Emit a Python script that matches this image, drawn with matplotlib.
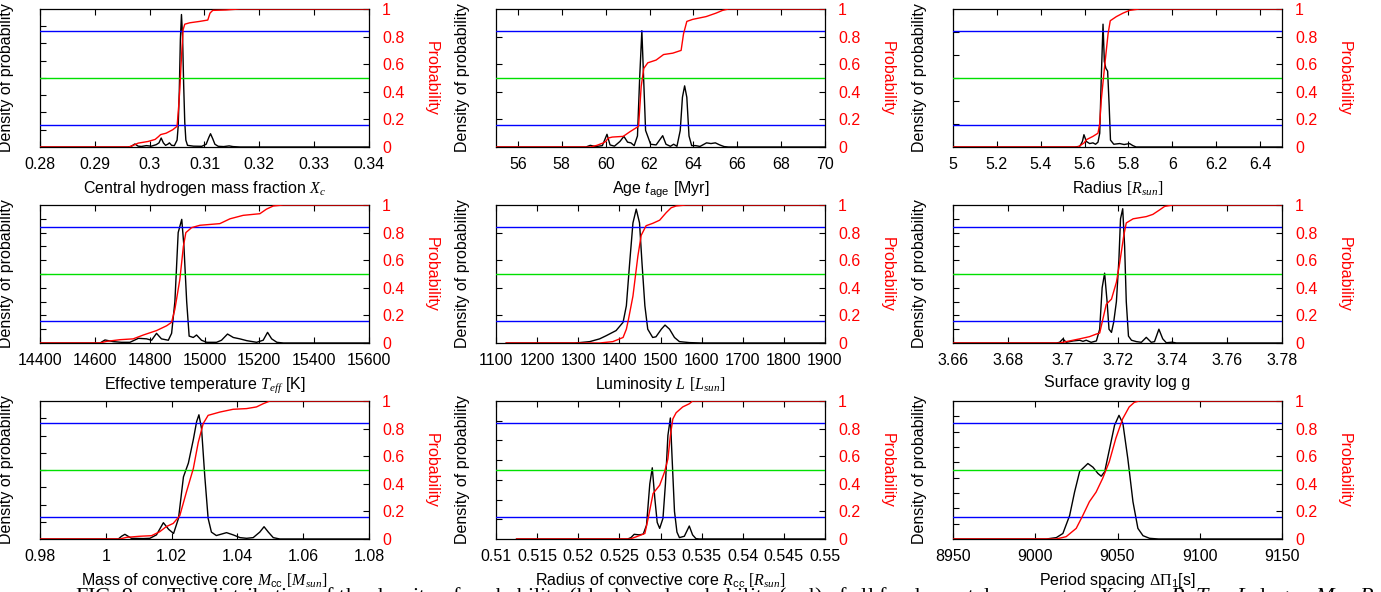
import numpy as np
import matplotlib
matplotlib.use('Agg')
import matplotlib.pyplot as plt

plt.rcParams['font.family'] = ['Liberation Sans', 'DejaVu Sans']
plt.rcParams['mathtext.fontset'] = 'custom'
plt.rcParams['mathtext.rm'] = 'Liberation Serif'
plt.rcParams['mathtext.it'] = 'Liberation Serif:italic'
plt.rcParams['mathtext.sf'] = 'Liberation Sans'
plt.rcParams['mathtext.bf'] = 'Liberation Sans:italic'

# ---------------- data (density as fraction of the unlabeled left axis) ----------------
# 1. Central hydrogen mass fraction
XC_DENS_X = [0.280, 0.2960, 0.2966, 0.2973, 0.2979, 0.2985, 0.2994, 0.3003, 0.3012, 0.3017, 0.3021,
             0.3025, 0.3029, 0.3033, 0.3036, 0.3040, 0.3045, 0.3050, 0.3052, 0.3054, 0.3056, 0.3058,
             0.3060, 0.3062, 0.3064, 0.3066, 0.3069, 0.3080, 0.3095, 0.3103, 0.3108, 0.3111, 0.3115,
             0.3119, 0.3125, 0.3135, 0.3145, 0.3152, 0.3165, 0.340]
XC_DENS_Y = [0, 0, 0.004, 0.022, 0.006, 0.004, 0.010, 0.006, 0.017, 0.03, 0.065,
             0.03, 0.012, 0.02, 0.03, 0.012, 0.01, 0.05, 0.15, 0.40, 0.78, 0.96,
             0.80, 0.45, 0.18, 0.05, 0.012, 0.006, 0.005, 0.02, 0.07, 0.096, 0.06,
             0.02, 0.005, 0.003, 0.008, 0.003, 0, 0]
XC_CDF_X = [0.280, 0.2962, 0.2970, 0.2979, 0.2997, 0.3010, 0.3016, 0.3020, 0.3030, 0.3042, 0.3050,
            0.3053, 0.3055, 0.3057, 0.3059, 0.3061, 0.3064, 0.3073, 0.3091, 0.3106, 0.3110, 0.3115,
            0.3139, 0.3164, 0.340]
XC_CDF_Y = [0, 0, 0.012, 0.028, 0.04, 0.055, 0.075, 0.09, 0.10, 0.125, 0.15,
            0.30, 0.42, 0.58, 0.72, 0.85, 0.89, 0.90, 0.91, 0.92, 0.97, 0.99,
            0.993, 1.0, 1.0]

# 2. Age
AGE_DENS_X = [55, 59.1, 59.3, 59.55, 59.85, 60.06, 60.2, 60.4, 60.65, 60.83, 61.0, 61.15, 61.3,
              61.45, 61.55, 61.65, 61.73, 61.82, 61.92, 62.05, 62.3, 62.6, 62.75, 62.95, 63.1,
              63.25, 63.4, 63.5, 63.6, 63.7, 63.8, 63.92, 64.1, 64.3, 64.6, 64.8, 65.0, 65.2,
              65.4, 65.6, 70]
AGE_DENS_Y = [0, 0, 0.012, 0.003, 0.01, 0.092, 0.015, 0.006, 0.04, 0.077, 0.035, 0.03, 0.01,
              0.08, 0.5, 0.843, 0.5, 0.12, 0.077, 0.02, 0.015, 0.082, 0.02, 0.005, 0.02,
              0.005, 0.12, 0.36, 0.443, 0.36, 0.08, 0.01, 0.01, 0.004, 0.03, 0.025, 0.03, 0.015,
              0.003, 0, 0]
AGE_CDF_X = [55, 59.3, 59.6, 59.9, 60.0, 60.12, 60.3, 60.8, 61.1, 61.4, 61.5, 61.62, 61.74, 61.92,
             62.3, 62.64, 63.06, 63.44, 63.55, 63.7, 63.97, 64.58, 65.03, 65.33, 65.6, 70]
AGE_CDF_Y = [0, 0, 0.012, 0.03, 0.04, 0.065, 0.072, 0.077, 0.11, 0.14, 0.15, 0.44, 0.57, 0.61,
             0.63, 0.67, 0.68, 0.70, 0.82, 0.91, 0.925, 0.945, 0.97, 0.99, 1.0, 1.0]

# 3. Radius
RAD_DENS_X = [5.0, 5.555, 5.578, 5.59, 5.597, 5.608, 5.623, 5.638, 5.65, 5.661, 5.669, 5.676,
              5.684, 5.690, 5.697, 5.705, 5.712, 5.718, 5.733, 5.76, 5.78, 5.805, 5.82, 5.835, 6.5]
RAD_DENS_Y = [0, 0, 0.005, 0.04, 0.089, 0.04, 0.025, 0.03, 0.02, 0.035, 0.1, 0.5,
              0.89, 0.62, 0.57, 0.55, 0.3, 0.05, 0.02, 0.025, 0.018, 0.025, 0.01, 0, 0]
RAD_CDF_X = [5.0, 5.57, 5.598, 5.608, 5.638, 5.661, 5.669, 5.676, 5.691, 5.707, 5.717, 5.745,
             5.775, 5.805, 5.85, 6.5]
RAD_CDF_Y = [0, 0, 0.03, 0.053, 0.077, 0.10, 0.17, 0.34, 0.58, 0.82, 0.915, 0.945,
             0.97, 0.99, 1.0, 1.0]

# 4. Effective temperature
TEFF_DENS_X = [14400, 14619, 14637, 14667, 14697, 14728, 14759, 14789, 14807, 14825, 14843, 14868,
               14880, 14892, 14904, 14917, 14925, 14935, 14944, 14959, 14971, 14989, 15008, 15044,
               15062, 15084, 15105, 15129, 15154, 15190, 15214, 15230, 15245, 15264, 15288, 15600]
TEFF_DENS_Y = [0, 0, 0.022, 0.01, 0.005, 0.005, 0.034, 0.03, 0.02, 0.07, 0.03, 0.02,
               0.07, 0.3, 0.8, 0.896, 0.7, 0.3, 0.05, 0.04, 0.058, 0.02, 0.005, 0.005,
               0.02, 0.065, 0.04, 0.03, 0.017, 0.005, 0.02, 0.077, 0.03, 0.005, 0, 0]
TEFF_CDF_X = [14400, 14619, 14643, 14692, 14740, 14777, 14825, 14862, 14880, 14892, 14910, 14923,
              14932, 14953, 14983, 15056, 15093, 15141, 15202, 15226, 15251, 15287, 15600]
TEFF_CDF_Y = [0, 0, 0.012, 0.024, 0.03, 0.058, 0.09, 0.125, 0.15, 0.245, 0.46, 0.70,
              0.80, 0.836, 0.853, 0.865, 0.90, 0.925, 0.937, 0.97, 0.993, 1.0, 1.0]

# 5. Luminosity
LUM_DENS_X = [1125, 1291, 1304, 1328, 1352, 1368, 1392, 1409, 1417, 1425, 1433, 1441, 1449, 1455,
              1462, 1469, 1481, 1489, 1502, 1511, 1522, 1534, 1546, 1570, 1600, 1900]
LUM_DENS_Y = [0, 0, 0.003, 0.01, 0.03, 0.053, 0.09, 0.15, 0.27, 0.58, 0.87, 0.97, 0.87, 0.58,
              0.27, 0.10, 0.04, 0.045, 0.10, 0.13, 0.10, 0.04, 0.01, 0.003, 0, 0]
LUM_CDF_X = [1125, 1352, 1384, 1409, 1417, 1422, 1433, 1445, 1453, 1465, 1481, 1498, 1514, 1526,
             1538, 1562, 1900]
LUM_CDF_Y = [0, 0, 0.01, 0.04, 0.10, 0.17, 0.34, 0.63, 0.78, 0.85, 0.867, 0.89, 0.945, 0.98,
             0.993, 1.0, 1.0]

# 6. Surface gravity
LOGG_DENS_X = [3.66, 3.6977, 3.6989, 3.7001, 3.7013, 3.7038, 3.7062, 3.7074, 3.7086, 3.7104, 3.7123,
               3.7135, 3.7144, 3.7153, 3.7162, 3.7169, 3.7178, 3.7186, 3.7196, 3.7205, 3.7211,
               3.7219, 3.7226, 3.7232, 3.7240, 3.7251, 3.7269, 3.7287, 3.7305, 3.7323, 3.7335,
               3.7351, 3.7365, 3.7378, 3.7399, 3.7415, 3.78]
LOGG_DENS_Y = [0, 0, 0.005, 0.03, 0.005, 0.015, 0.02, 0.012, 0.02, 0.005, 0.015,
               0.1, 0.4, 0.506, 0.3, 0.1, 0.077, 0.15, 0.3, 0.6, 0.9,
               0.973, 0.7, 0.3, 0.05, 0.02, 0.01, 0.005, 0.041, 0.005, 0.01,
               0.10, 0.03, 0.002, 0.006, 0, 0]
LOGG_CDF_X = [3.66, 3.6989, 3.7013, 3.7062, 3.7098, 3.7123, 3.7135, 3.7144, 3.7159, 3.7178, 3.7196,
              3.7208, 3.7223, 3.7232, 3.7257, 3.7305, 3.7329, 3.7354, 3.7372, 3.7402, 3.78]
LOGG_CDF_Y = [0, 0, 0.01, 0.03, 0.046, 0.065, 0.072, 0.15, 0.28, 0.318, 0.44,
              0.58, 0.78, 0.87, 0.90, 0.916, 0.932, 0.965, 0.99, 1.0, 1.0]

# 7. Mass of convective core
MCC_DENS_X = [0.98, 1.0038, 1.0048, 1.0058, 1.0078, 1.0114, 1.0134, 1.0154, 1.0175, 1.0191, 1.0206,
              1.0221, 1.0236, 1.0251, 1.0266, 1.0276, 1.0283, 1.0291, 1.0301, 1.0311, 1.0321,
              1.0336, 1.0367, 1.0387, 1.0408, 1.0428, 1.0448, 1.0468, 1.0481, 1.0494, 1.0509,
              1.0529, 1.08]
MCC_DENS_Y = [0, 0, 0.02, 0.034, 0.005, 0.003, 0.005, 0.03, 0.118, 0.07, 0.04,
              0.15, 0.45, 0.55, 0.72, 0.85, 0.90, 0.80, 0.45, 0.15, 0.05,
              0.025, 0.046, 0.03, 0.01, 0.005, 0.01, 0.05, 0.089, 0.05, 0.01,
              0, 0]
MCC_CDF_X = [0.98, 1.0043, 1.0063, 1.0104, 1.0139, 1.0164, 1.0184, 1.0205, 1.0225, 1.0245, 1.0266,
             1.0281, 1.0296, 1.0311, 1.0347, 1.0387, 1.0428, 1.0458, 1.0478, 1.0499, 1.08]
MCC_CDF_Y = [0, 0, 0.012, 0.02, 0.024, 0.053, 0.09, 0.113, 0.17, 0.34, 0.51,
             0.70, 0.836, 0.896, 0.92, 0.94, 0.945, 0.957, 0.98, 1.0, 1.0]

# 8. Radius of convective core
RCC_DENS_X = [0.5125, 0.5260, 0.5264, 0.5268, 0.5274, 0.5279, 0.5283, 0.5287, 0.5290, 0.5293,
              0.5296, 0.5299, 0.5303, 0.5306, 0.5309, 0.5312, 0.5314, 0.5317, 0.5320, 0.5323,
              0.5329, 0.5335, 0.5339, 0.5343, 0.5347, 0.55]
RCC_DENS_Y = [0, 0, 0.01, 0.034, 0.03, 0.035, 0.10, 0.40, 0.516, 0.30,
              0.12, 0.077, 0.15, 0.40, 0.75, 0.877, 0.60, 0.20, 0.05, 0.01,
              0.02, 0.094, 0.03, 0.003, 0, 0]
RCC_CDF_X = [0.5125, 0.5263, 0.5271, 0.5281, 0.5285, 0.5291, 0.5299, 0.5305, 0.5309, 0.5312,
             0.5315, 0.5319, 0.5327, 0.5335, 0.5339, 0.55]
RCC_CDF_Y = [0, 0, 0.017, 0.04, 0.15, 0.33, 0.39, 0.487, 0.58, 0.75,
             0.87, 0.915, 0.957, 0.98, 1.0, 1.0]

# 9. Period spacing
DP_DENS_X = [8950, 9006.7, 9012.8, 9016.8, 9020.9, 9023.9, 9027.0, 9032.0, 9035.1, 9038.1, 9040.1,
             9042.2, 9045.2, 9048.2, 9050.9, 9053.3, 9056.3, 9059.4, 9062.4, 9065.5, 9069.5,
             9075, 9150]
DP_DENS_Y = [0, 0, 0.01, 0.04, 0.17, 0.34, 0.49, 0.547, 0.52, 0.475, 0.455,
             0.487, 0.655, 0.824, 0.896, 0.836, 0.58, 0.27, 0.077, 0.024, 0.005,
             0, 0]
DP_CDF_X = [8950, 9012.8, 9018.8, 9024.9, 9028.9, 9032.9, 9037.0, 9041.0, 9045.0, 9049.0, 9053.1,
            9057.1, 9060.2, 9063.2, 9150]
DP_CDF_Y = [0, 0, 0.017, 0.077, 0.17, 0.27, 0.34, 0.44, 0.56, 0.73, 0.87,
            0.957, 0.99, 1.0, 1.0]

# axis ranges / ticks / labels
XLIMS = [(0.28, 0.34), (55, 70), (5.0, 6.5), (14400, 15600), (1100, 1900), (3.66, 3.78),
         (0.98, 1.08), (0.51, 0.55), (8950, 9150)]
XTICKS = [[0.28, 0.29, 0.30, 0.31, 0.32, 0.33, 0.34],
          [56, 58, 60, 62, 64, 66, 68, 70],
          [5.0, 5.2, 5.4, 5.6, 5.8, 6.0, 6.2, 6.4],
          [14400, 14600, 14800, 15000, 15200, 15400, 15600],
          [1100, 1200, 1300, 1400, 1500, 1600, 1700, 1800, 1900],
          [3.66, 3.68, 3.70, 3.72, 3.74, 3.76, 3.78],
          [0.98, 1.00, 1.02, 1.04, 1.06, 1.08],
          [0.51, 0.515, 0.52, 0.525, 0.53, 0.535, 0.54, 0.545, 0.55],
          [8950, 9000, 9050, 9100, 9150]]
XTICKLABELS = [['0.28', '0.29', '0.3', '0.31', '0.32', '0.33', '0.34'],
               ['56', '58', '60', '62', '64', '66', '68', '70'],
               ['5', '5.2', '5.4', '5.6', '5.8', '6', '6.2', '6.4'],
               ['14400', '14600', '14800', '15000', '15200', '15400', '15600'],
               ['1100', '1200', '1300', '1400', '1500', '1600', '1700', '1800', '1900'],
               ['3.66', '3.68', '3.7', '3.72', '3.74', '3.76', '3.78'],
               ['0.98', '1', '1.02', '1.04', '1.06', '1.08'],
               ['0.51', '0.515', '0.52', '0.525', '0.53', '0.535', '0.54', '0.545', '0.55'],
               ['8950', '9000', '9050', '9100', '9150']]
DENS_TICK_DIVISIONS = [8, 5, 6, 10, 5, 10, 8, 7, 9]
XLABELS = [r'Central hydrogen mass fraction $X_c$',
           r'Age $\mathbf{t}_{\mathsf{age}}$ [Myr]',
           r'Radius $[R_{sun}]$',
           r'Effective temperature $T_{eff}$ [K]',
           r'Luminosity $L$ $[L_{sun}]$',
           r'Surface gravity log g',
           r'Mass of convective core $M_{\mathsf{cc}}$ $[M_{sun}]$',
           r'Radius of convective core $R_{\mathsf{cc}}$ $[R_{sun}]$',
           r'Period spacing $\Delta\Pi_{\mathsf{1}}$[s]']
PROB_TICKS = [0, 0.2, 0.4, 0.6, 0.8, 1.0]
PROB_TICKLABELS = ['0', '0.2', '0.4', '0.6', '0.8', '1']
SIGMA_LEVELS = [0.16, 0.5, 0.84]
SIGMA_COLORS = ['#0000ff', '#00e000', '#0000ff']
CAPTION = (r'FIG. 9.— The distribution of the density of probability (black) and probability (red) '
           r'of all fundamental parameters $X_c$, $t_{\rm age}$, $R$, $T_{\rm eff}$, $L$, '
           r'$\log\,g$, $M_{\rm cc}$, $R_{\rm cc}$')

DENS_X = [XC_DENS_X, AGE_DENS_X, RAD_DENS_X, TEFF_DENS_X, LUM_DENS_X, LOGG_DENS_X,
          MCC_DENS_X, RCC_DENS_X, DP_DENS_X]
DENS_Y = [XC_DENS_Y, AGE_DENS_Y, RAD_DENS_Y, TEFF_DENS_Y, LUM_DENS_Y, LOGG_DENS_Y,
          MCC_DENS_Y, RCC_DENS_Y, DP_DENS_Y]
CDF_X = [XC_CDF_X, AGE_CDF_X, RAD_CDF_X, TEFF_CDF_X, LUM_CDF_X, LOGG_CDF_X,
         MCC_CDF_X, RCC_CDF_X, DP_CDF_X]
CDF_Y = [XC_CDF_Y, AGE_CDF_Y, RAD_CDF_Y, TEFF_CDF_Y, LUM_CDF_Y, LOGG_CDF_Y,
         MCC_CDF_Y, RCC_CDF_Y, DP_CDF_Y]

# ---------------- layout ----------------
W, H = 1381, 592
fig = plt.figure(figsize=(W / 100, H / 100), dpi=100)
COL_LEFT = [40, 496, 953]
ROW_TOP = [9, 205, 401]
AX_W, AX_H = 329, 138
FS = 11.5
TICK_LEN = 4.3

for i in range(9):
    r, c = divmod(i, 3)
    rect = [COL_LEFT[c] / W, 1 - (ROW_TOP[r] + AX_H) / H, AX_W / W, AX_H / H]
    ax = fig.add_axes(rect)
    ax.set_xlim(*XLIMS[i])
    ax.set_ylim(0, 1)
    ax.set_xticks(XTICKS[i])
    ax.set_xticklabels(XTICKLABELS[i])
    n = DENS_TICK_DIVISIONS[i]
    ax.set_yticks(np.arange(1, n) / n)
    ax.set_yticklabels([])
    ax.tick_params(axis='both', direction='in', length=TICK_LEN, width=0.8,
                   labelsize=FS, top=True, right=False)
    ax.tick_params(axis='x', pad=7)
    for s in ax.spines.values():
        s.set_linewidth(0.9)
    ax.plot(DENS_X[i], DENS_Y[i], color='black', lw=1.0, zorder=3)
    ax.set_ylabel('Density of probability', fontsize=FS)
    ax.yaxis.set_label_coords(-0.08, 0.5)
    ax.set_xlabel(XLABELS[i], fontsize=FS)
    ax.xaxis.set_label_coords(0.5, -0.235)

    ax2 = ax.twinx()
    ax2.set_ylim(0, 1)
    ax2.set_yticks(PROB_TICKS)
    ax2.set_yticklabels(PROB_TICKLABELS)
    ax2.tick_params(axis='y', direction='in', length=TICK_LEN, width=0.8,
                    labelsize=FS, labelcolor='red', pad=9.5)
    for s in ax2.spines.values():
        s.set_visible(False)
    for lev, col in zip(SIGMA_LEVELS, SIGMA_COLORS):
        ax2.axhline(lev, color=col, lw=1.0, zorder=1)
    ax2.plot(CDF_X[i], CDF_Y[i], color='red', lw=1.0, zorder=4)
    ax2.set_ylabel('Probability', color='red', fontsize=FS, rotation=270, va='center')
    ax2.yaxis.set_label_coords(1.19, 0.5)

fig.text(75 / W, 1 - 603 / H, CAPTION, fontsize=16, family='Liberation Serif', va='baseline')

fig.savefig('out.png', dpi=100)
